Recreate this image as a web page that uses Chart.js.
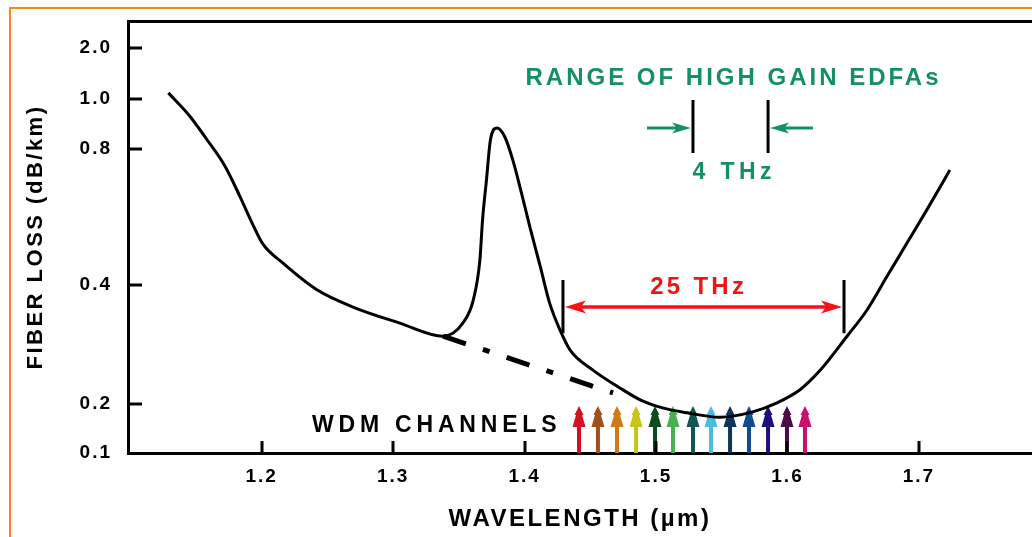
<!DOCTYPE html>
<html>
<head>
<meta charset="utf-8">
<script src="https://cdn.jsdelivr.net/npm/chart.js@4.4.1/dist/chart.umd.min.js"></script>
<style>
  html, body { margin: 0; padding: 0; background: #fff; }
  #wrap { width: 1032px; height: 537px; position: relative; }
</style>
</head>
<body>
<div id="wrap"><canvas id="lossChart"></canvas></div>
<script>
// fiber loss curve
const wavelength = [1.129, 1.1455, 1.158, 1.172, 1.1835, 1.193, 1.201, 1.216, 1.242, 1.2695,
    1.305, 1.338, 1.353, 1.361, 1.366, 1.368, 1.371, 1.374, 1.379, 1.385,
    1.391, 1.3965, 1.404, 1.412, 1.419, 1.427, 1.4345, 1.452, 1.4725, 1.488,
    1.505, 1.5235, 1.5485, 1.5735, 1.592, 1.6095, 1.625, 1.645, 1.6605, 1.6755,
    1.691, 1.706, 1.7235];
const fiberLoss = [1.12, 0.93, 0.84, 0.75, 0.66, 0.58, 0.52, 0.465, 0.392, 0.363,
    0.336, 0.314, 0.336, 0.375, 0.474, 0.591, 0.709, 0.836, 0.884, 0.848,
    0.768, 0.688, 0.571, 0.453, 0.37, 0.324, 0.291, 0.257, 0.227, 0.207,
    0.192, 0.182, 0.173, 0.184, 0.202, 0.224, 0.257, 0.313, 0.358, 0.424,
    0.524, 0.621, 0.738];

// dash-dot extrapolation under the water peak
const tailWavelength = [1.338, 1.4673];
const tailLoss = [0.314, 0.2185];

// WDM channel arrows
const channelWavelength = [1.4414, 1.4558, 1.4703, 1.4848, 1.4992, 1.5129, 1.5281,
    1.5418, 1.5563, 1.5707, 1.5852, 1.5996, 1.6133];
const channelTop = 0.196;
const channelColors = ['#d41020', '#a0501a', '#d07a18', '#c8c41a', '#0e4a20', '#4cb050', '#0e5850',
    '#4cbcdc', '#0e3658', '#104c8c', '#1e107c', '#4a0e44', '#c8106c'];

// ticks
const xTicks = [1.2, 1.3, 1.4, 1.5, 1.6, 1.7];
const yTicks = [0.1, 0.2, 0.4, 0.8, 1.0, 2.0];

// the loss axis is not evenly spaced: where each tick sits, in axis units from the bottom
const yStops = [0, 49, 168, 304, 354, 405];
const yTop = 432;

function toUnits(v) {
    let i = 1;
    while (i < yTicks.length - 1 && v > yTicks[i]) i++;
    const t = (v - yTicks[i - 1]) / (yTicks[i] - yTicks[i - 1]);
    return yStops[i - 1] + t * (yStops[i] - yStops[i - 1]);
}
function fromUnits(u) {
    let i = 1;
    while (i < yStops.length - 1 && u > yStops[i]) i++;
    const t = (u - yStops[i - 1]) / (yStops[i] - yStops[i - 1]);
    return yTicks[i - 1] + t * (yTicks[i] - yTicks[i - 1]);
}

const LinearScale = Chart.LinearScale || Chart.registry.getScale('linear');
class StretchedScale extends LinearScale {
    buildTicks() { return yTicks.map(value => ({ value })); }
    getPixelForValue(value) { return this.getPixelForDecimal(toUnits(value) / yTop); }
    getValueForPixel(pixel) { return fromUnits(this.getDecimalForPixel(pixel) * yTop); }
}
StretchedScale.id = 'stretched';
Chart.register(StretchedScale);

const FONT = '"Liberation Sans", Arial, Helvetica, sans-serif';
const GREEN = '#158f66';
const RED = '#f01414';

function label(ctx, text, x, y, color, size, spacing, align) {
    ctx.save();
    ctx.font = 'bold ' + size + 'px ' + FONT;
    ctx.letterSpacing = spacing + 'px';
    ctx.fillStyle = color;
    ctx.textAlign = align;
    ctx.textBaseline = 'middle';
    ctx.fillText(text, align === 'center' ? x + spacing / 2 : x, y);
    ctx.restore();
}

// filled arrow head, tip at (x, y), pointing in direction dir (+1 right, -1 left)
function headH(ctx, x, y, dir, len, half) {
    ctx.beginPath();
    ctx.moveTo(x, y);
    ctx.lineTo(x - dir * len, y - half);
    ctx.lineTo(x - dir * len * 0.75, y);
    ctx.lineTo(x - dir * len, y + half);
    ctx.closePath();
    ctx.fill();
}

function channelArrow(ctx, x, yTip, yBase, color) {
    ctx.fillStyle = color;
    ctx.beginPath();
    ctx.moveTo(x, yTip);
    ctx.lineTo(x + 4.5, yTip + 9);
    ctx.lineTo(x + 3, yTip + 9);
    ctx.lineTo(x + 6.5, yTip + 21);
    ctx.lineTo(x + 2, yTip + 21);
    ctx.lineTo(x + 2, yBase);
    ctx.lineTo(x - 2, yBase);
    ctx.lineTo(x - 2, yTip + 21);
    ctx.lineTo(x - 6.5, yTip + 21);
    ctx.lineTo(x - 3, yTip + 9);
    ctx.lineTo(x - 4.5, yTip + 9);
    ctx.closePath();
    ctx.fill();
}

const framePlugin = {
    id: 'frame',
    beforeDraw(chart) {
        const { ctx, width, height } = chart;
        ctx.save();
        ctx.fillStyle = '#fff';
        ctx.fillRect(0, 0, width, height);
        ctx.fillStyle = '#f7861c';
        ctx.fillRect(9, 7, width - 9, 2);
        ctx.fillRect(9, 7, 2, height - 7);
        ctx.restore();
        // wide tracking for the axis titles (drawn before the datasets)
        ctx.letterSpacing = '2.5px';
    }
};

const marksPlugin = {
    id: 'marks',
    beforeDatasetsDraw(chart) {
        const { ctx, chartArea, scales } = chart;
        const meta = chart.getDatasetMeta(2);
        ctx.save();
        meta.data.forEach((pt, i) => channelArrow(ctx, pt.x, pt.y, chartArea.bottom, channelColors[i]));
        // inward tick marks
        ctx.strokeStyle = '#000';
        ctx.lineWidth = 3;
        ctx.beginPath();
        xTicks.forEach(v => {
            const px = Math.round(scales.x.getPixelForValue(v));
            ctx.moveTo(px, chartArea.bottom);
            ctx.lineTo(px, chartArea.bottom - 12);
        });
        yTicks.slice(1).forEach(v => {
            const py = Math.round(scales.y.getPixelForValue(v));
            ctx.moveTo(chartArea.left, py);
            ctx.lineTo(chartArea.left + 14, py);
        });
        ctx.stroke();
        ctx.restore();
    },
    afterDatasetsDraw(chart) {
        const { ctx, scales } = chart;
        const X = v => scales.x.getPixelForValue(v);
        const Y = v => scales.y.getPixelForValue(v);
        ctx.save();

        // 25 THz window
        ctx.strokeStyle = '#000';
        ctx.lineWidth = 3;
        ctx.beginPath();
        [1.4292, 1.643].forEach(w => { ctx.moveTo(X(w), Y(0.415)); ctx.lineTo(X(w), Y(0.319)); });
        ctx.stroke();
        ctx.strokeStyle = RED;
        ctx.fillStyle = RED;
        ctx.lineWidth = 3.5;
        ctx.beginPath();
        ctx.moveTo(X(1.4292) + 10, Y(0.363));
        ctx.lineTo(X(1.643) - 10, Y(0.363));
        ctx.stroke();
        headH(ctx, X(1.4292) + 2, Y(0.363), -1, 21, 6.5);
        headH(ctx, X(1.643) - 2, Y(0.363), 1, 21, 6.5);
        label(ctx, '25 THz', X(1.5312), Y(0.3958), RED, 24, 3.3, 'center');

        // 4 THz EDFA window
        ctx.strokeStyle = '#000';
        ctx.lineWidth = 3;
        ctx.beginPath();
        [1.5281, 1.5852].forEach(w => { ctx.moveTo(X(w), Y(0.996)); ctx.lineTo(X(w), Y(0.788)); });
        ctx.stroke();
        ctx.strokeStyle = GREEN;
        ctx.fillStyle = GREEN;
        ctx.beginPath();
        ctx.moveTo(X(1.4931), Y(0.884));
        ctx.lineTo(X(1.5281) - 12, Y(0.884));
        ctx.moveTo(X(1.6194), Y(0.884));
        ctx.lineTo(X(1.5852) + 12, Y(0.884));
        ctx.stroke();
        headH(ctx, X(1.5281) - 2, Y(0.884), 1, 19, 5.5);
        headH(ctx, X(1.5852) + 2, Y(0.884), -1, 19, 5.5);
        label(ctx, 'RANGE OF HIGH GAIN EDFAs', X(1.5578), Y(1.406), GREEN, 24, 3, 'center');
        label(ctx, '4 THz', X(1.5578), Y(0.731), GREEN, 23, 4.4, 'center');

        label(ctx, 'WDM CHANNELS', X(1.2383), Y(0.155), '#000', 23, 4.8, 'left');
        ctx.restore();
        // tracking for the tick labels, drawn after the datasets
        ctx.letterSpacing = '2px';
    }
};

const tickFont = { family: FONT, size: 19, weight: 'bold' };

new Chart(document.getElementById('lossChart'), {
    type: 'scatter',
    data: {
        datasets: [
            {
                label: 'Fiber loss',
                data: wavelength.map((x, i) => ({ x, y: fiberLoss[i] })),
                showLine: true,
                borderColor: '#000',
                borderWidth: 3,
                pointRadius: 0,
                cubicInterpolationMode: 'monotone'
            },
            {
                label: 'Extrapolation',
                data: tailWavelength.map((x, i) => ({ x, y: tailLoss[i] })),
                showLine: true,
                borderColor: '#000',
                borderWidth: 5,
                borderDash: [24, 18, 7, 18],
                pointRadius: 0
            },
            {
                label: 'WDM channels',
                data: channelWavelength.map(x => ({ x, y: channelTop })),
                showLine: false,
                pointRadius: 0
            }
        ]
    },
    options: {
        responsive: true,
        maintainAspectRatio: false,
        animation: false,
        events: [],
        layout: { padding: { top: 21, left: 0, right: 0, bottom: 0 } },
        plugins: {
            legend: { display: false },
            tooltip: { enabled: false }
        },
        scales: {
            x: {
                type: 'linear',
                min: 1.0983,
                max: 1.786,
                afterBuildTicks: s => { s.ticks = xTicks.map(value => ({ value })); },
                afterFit: s => { s.height = 84; s.paddingLeft = 0; s.paddingRight = 0; },
                grid: { display: false, drawTicks: false },
                border: { display: true, width: 3, color: '#000' },
                ticks: {
                    z: 1,
                    color: '#000', font: tickFont, padding: 12,
                    maxRotation: 0, autoSkip: false,
                    callback: v => v.toFixed(1)
                },
                title: {
                    display: true, text: 'WAVELENGTH (µm)', color: '#000',
                    font: { family: FONT, size: 24, weight: 'bold' },
                    padding: { top: 0, bottom: 3 }
                }
            },
            x2: {
                type: 'linear',
                position: 'top',
                afterFit: s => { s.height = 0; s.paddingLeft = 0; s.paddingRight = 0; },
                grid: { display: false, drawTicks: false },
                border: { display: true, width: 3, color: '#000' },
                ticks: { display: false }
            },
            y: {
                type: 'stretched',
                min: 0.1,
                max: fromUnits(yTop),
                afterFit: s => { s.width = 128; s.paddingTop = 0; s.paddingBottom = 0; },
                grid: { display: false, drawTicks: false },
                border: { display: true, width: 3, color: '#000' },
                ticks: {
                    z: 1,
                    color: '#000', font: tickFont, padding: 16,
                    autoSkip: false,
                    callback: v => Number(v).toFixed(1)
                },
                title: {
                    display: true, text: 'FIBER LOSS (dB/km)', color: '#000',
                    font: { family: FONT, size: 22, weight: 'bold' },
                    padding: { top: 23, bottom: 0 }
                }
            }
        }
    },
    plugins: [framePlugin, marksPlugin]
});
</script>
</body>
</html>
